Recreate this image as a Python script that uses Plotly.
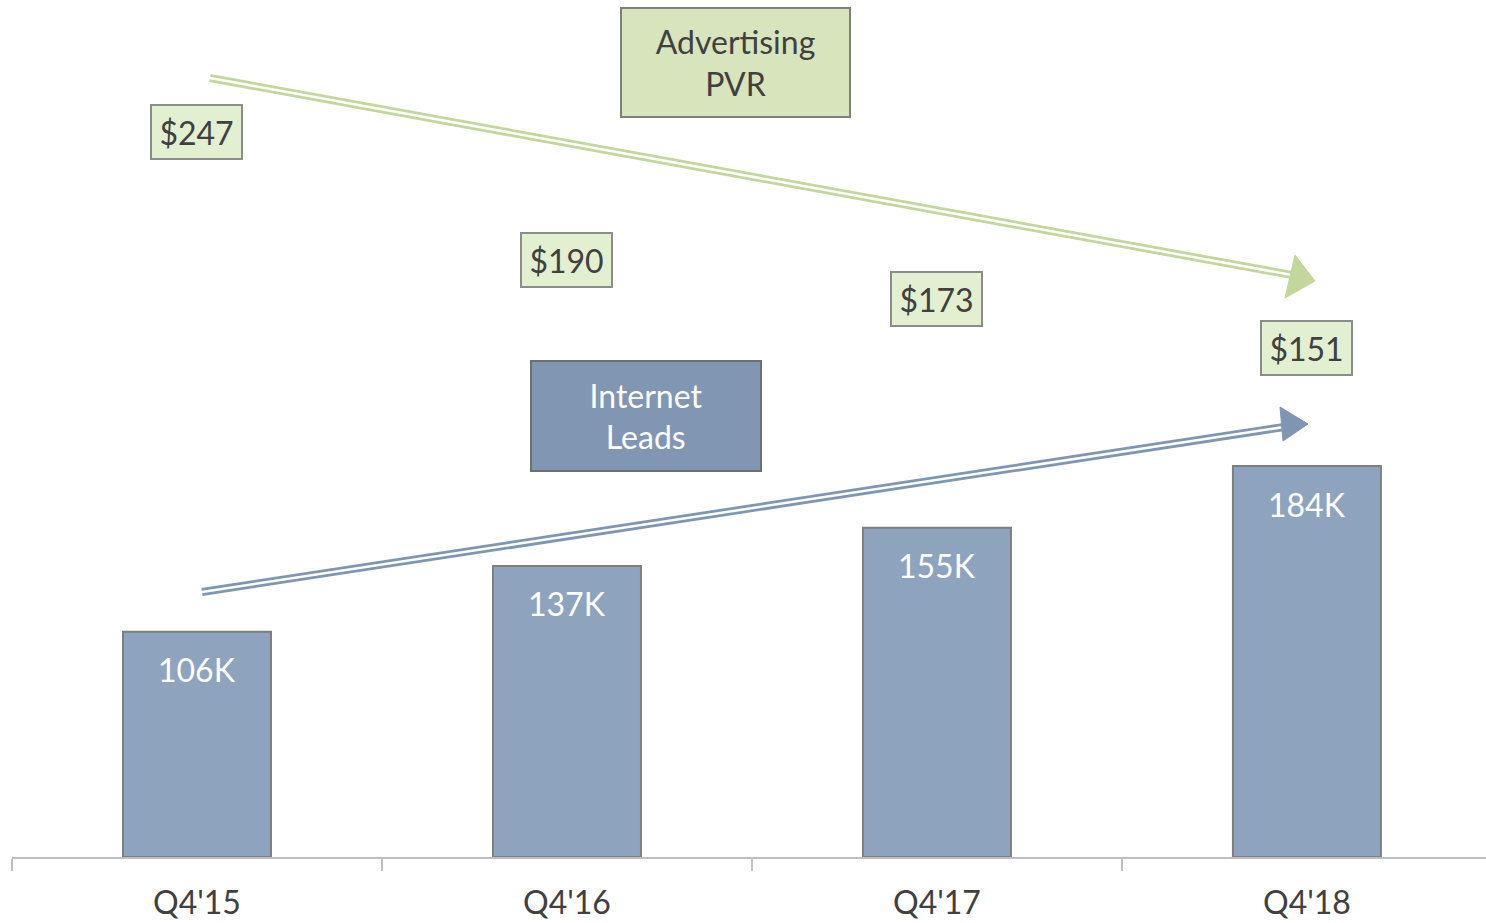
import plotly.graph_objects as go

categories = ["Q4'15", "Q4'16", "Q4'17", "Q4'18"]
leads_k = [106, 137, 155, 184]
pvr = [247, 190, 173, 151]

W, H = 1486, 923
ML, MR, MT, MB = 12, 0, 0, 66
PW, PH = W - ML - MR, H - MT - MB

def px(x):
    return (x - ML) / PW

def py(y):
    return (H - MB - y) / PH

FONT = "Lato, 'Open Sans', sans-serif"
TXT = "#404040"
GREEN = "#c3d69b"
BLUE = "#7f96b3"

fig = go.Figure()
fig.add_trace(go.Bar(
    x=categories, y=leads_k, width=0.4,
    marker=dict(color="#8ea3bd", line=dict(color="#7f7f7f", width=2)),
    hoverinfo="skip", showlegend=False,
))
fig.add_trace(go.Scatter(
    x=categories, y=pvr, yaxis="y2", mode="markers",
    marker=dict(opacity=0), hoverinfo="skip", showlegend=False,
))

annotations = []
for c, v in zip(categories, leads_k):
    annotations.append(dict(
        x=c, y=v, xref="x", yref="y", text=f"{v}K", showarrow=False,
        xanchor="center", yanchor="middle", yshift=-38,
        font=dict(family=FONT, size=32, color="white"),
    ))
for c, v in zip(categories, pvr):
    annotations.append(dict(
        x=c, y=v, xref="x", yref="y2", text=f"${v}", showarrow=False,
        xanchor="center", yanchor="middle",
        font=dict(family=FONT, size=32, color=TXT),
        bgcolor="#e3efd1", bordercolor="#8c8c8c", borderwidth=2, borderpad=0,
        width=89, height=52,
    ))
annotations.append(dict(
    x=px(735.5), y=py(62.5), xref="paper", yref="paper",
    xanchor="center", yanchor="middle",
    text="Advertising<br>PVR", showarrow=False,
    font=dict(family=FONT, size=32, color=TXT),
    bgcolor="#d8e4bc", bordercolor="#7f7f7f", borderwidth=2, borderpad=0,
    width=227, height=107,
))
annotations.append(dict(
    x=px(646), y=py(416), xref="paper", yref="paper",
    xanchor="center", yanchor="middle",
    text="Internet<br>Leads", showarrow=False,
    font=dict(family=FONT, size=32, color="white"),
    bgcolor="#8096b3", bordercolor="#6f6f6f", borderwidth=2, borderpad=0,
    width=228, height=108,
))

shapes = []
def double_arrow(x0, y0, x1, y1, tri, color):
    for w, col in ((8, color), (2.5, "white")):
        shapes.append(dict(type="line", xref="paper", yref="paper",
                           x0=px(x0), y0=py(y0), x1=px(x1), y1=py(y1),
                           line=dict(color=col, width=w)))
    path = "M {} {} L {} {} L {} {} Z".format(
        *[v for p in tri for v in (px(p[0]), py(p[1]))])
    shapes.append(dict(type="path", xref="paper", yref="paper", path=path,
                       fillcolor=color, line=dict(color=color, width=1)))

double_arrow(210, 78, 1292, 275, [(1295, 255), (1315, 281), (1285, 298)], GREEN)
double_arrow(202, 592, 1284, 427, [(1280, 407), (1308, 424), (1283, 441)], BLUE)

fig.update_layout(
    width=W, height=H,
    margin=dict(l=ML, r=MR, t=MT, b=MB, pad=0, autoexpand=False),
    paper_bgcolor="white", plot_bgcolor="white",
    xaxis=dict(range=[-0.5, 3.484], showline=True, linecolor="#bfbfbf", linewidth=1.5,
               ticks="outside", ticklen=12, tickcolor="#bfbfbf", tickwidth=1.5,
               tickson="boundaries", showgrid=False, zeroline=False,
               automargin=False, ticklabelstandoff=17,
               tickfont=dict(family=FONT, size=32, color=TXT)),
    yaxis=dict(range=[0, 403.3], visible=False, showgrid=False),
    yaxis2=dict(range=[-75.2, 305.7], overlaying="y", visible=False, showgrid=False),
    annotations=annotations, shapes=shapes,
)
fig.write_html("out.html", config={"displayModeBar": False},
               post_script="document.body.style.margin='0';document.body.style.overflow='hidden';")
